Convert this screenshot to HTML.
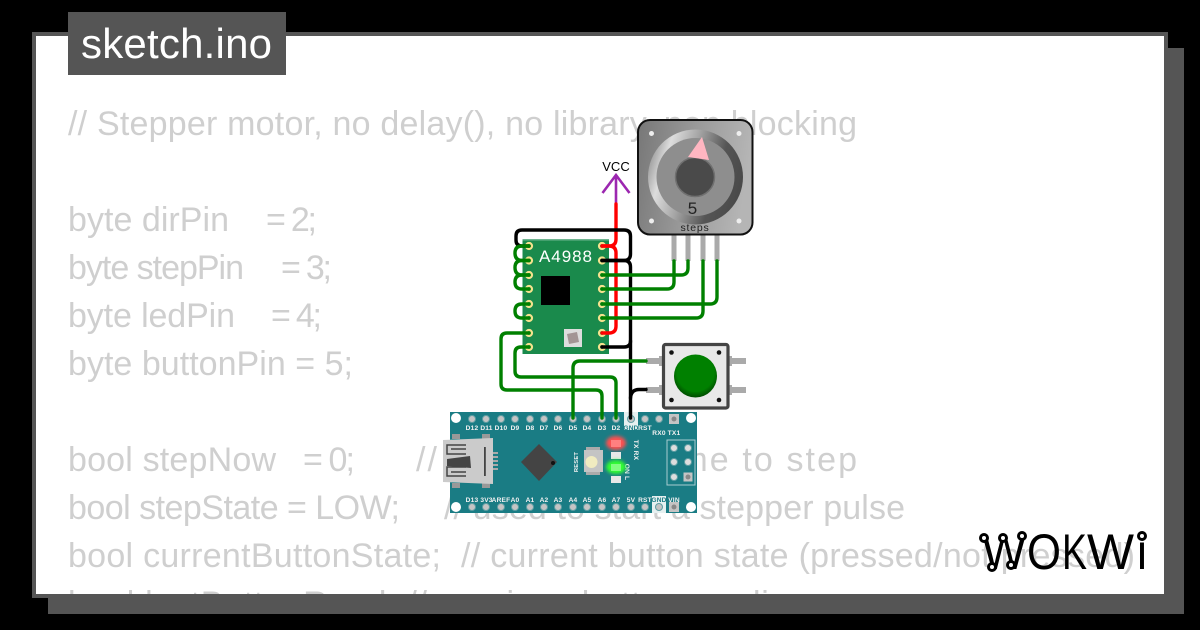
<!DOCTYPE html>
<html>
<head>
<meta charset="utf-8">
<style>
html,body{margin:0;padding:0;background:#000;width:1200px;height:630px;overflow:hidden}
svg{display:block}
text{font-family:"Liberation Sans",sans-serif}
.c{font-size:34px;fill:#cfcfcf}
.w{fill:none;stroke-width:3.400;stroke-linecap:round;stroke-linejoin:round}
.g{stroke:#008000}.k{stroke:#000}.r{stroke:#f00}
.l{font-size:6.600px;fill:#f2f2f2;text-anchor:middle;font-weight:bold;letter-spacing:.2px}
</style>
</head>
<body>
<svg width="1200" height="630" viewBox="0 0 1200 630" xmlns="http://www.w3.org/2000/svg">
<defs>
<linearGradient id="body" x1="0" y1="0" x2="1" y2="0.15"><stop offset="0" stop-color="#777"/><stop offset=".5" stop-color="#999"/><stop offset="1" stop-color="#b5b5b5"/></linearGradient>
<linearGradient id="ring" x1="0" y1="0.2" x2="1" y2="0.5"><stop offset="0" stop-color="#8a8a8a"/><stop offset=".2" stop-color="#ddd"/><stop offset=".45" stop-color="#a5a5a5"/><stop offset=".75" stop-color="#555"/><stop offset="1" stop-color="#4a4a4a"/></linearGradient>
<radialGradient id="btn" cx=".5" cy=".42" r=".6"><stop offset=".72" stop-color="#008000"/><stop offset="1" stop-color="#004400"/></radialGradient>
<clipPath id="panel"><rect x="36" y="36" width="1128" height="558"/></clipPath>
<filter id="glow" x="-100%" y="-100%" width="300%" height="300%"><feGaussianBlur stdDeviation="1.800"/></filter>
</defs>

<rect x="48" y="48" width="1136" height="566" fill="#555"/>
<rect x="34" y="34" width="1132" height="562" fill="#fff" stroke="#555" stroke-width="4"/>
<rect x="36" y="36" width="1128" height="558" fill="#fff"/>

<g clip-path="url(#panel)">
<text class="c" x="68" y="135" textLength="789">// Stepper motor, no delay(), no library, non blocking</text>
<text class="c" x="68" y="231" textLength="161">byte dirPin</text><text class="c" x="266" y="231" textLength="51">= 2;</text>
<text class="c" x="68" y="279" textLength="176">byte stepPin</text><text class="c" x="281" y="279" textLength="51">= 3;</text>
<text class="c" x="68" y="327" textLength="167">byte ledPin</text><text class="c" x="271" y="327" textLength="51">= 4;</text>
<text class="c" x="68" y="375" textLength="285">byte buttonPin = 5;</text>
<text class="c" x="68" y="471" textLength="208">bool stepNow</text><text class="c" x="303" y="471" textLength="52">= 0;</text><text class="c" x="416" y="471" textLength="441">// whether it's time to step</text>
<text class="c" x="68" y="519" textLength="332">bool stepState = LOW;</text><text class="c" x="444" y="519" textLength="461">// used to start a stepper pulse</text>
<text class="c" x="68" y="567" textLength="373">bool currentButtonState;</text><text class="c" x="461" y="567" textLength="674">// current button state (pressed/not pressed)</text>
<text class="c" x="68" y="615" textLength="740">bool lastButtonRead;  // previous button reading</text>
</g>

<rect x="68" y="12" width="218" height="63" fill="#555"/>
<text x="81" y="58" font-size="42" fill="#fff" textLength="191">sketch.ino</text>

<!-- Motor -->
<g fill="#aaa"><rect x="671.500" y="234" width="5" height="27"/><rect x="685.500" y="234" width="5" height="27"/><rect x="700.500" y="234" width="5" height="27"/><rect x="714.500" y="234" width="5" height="27"/></g>
<rect x="638" y="120" width="114.500" height="114.500" rx="12" fill="url(#body)" stroke="#111" stroke-width="2"/>
<g fill="#eee"><circle cx="651.500" cy="133.500" r="2.500"/><circle cx="739" cy="133.500" r="2.500"/><circle cx="651.500" cy="221" r="2.500"/><circle cx="739" cy="221" r="2.500"/></g>
<circle cx="695.500" cy="177" r="47.500" fill="url(#ring)"/>
<circle cx="695.500" cy="177" r="39" fill="#8e8e8e"/>
<circle cx="695" cy="177" r="19.500" fill="#4a4a4a" stroke="#707070" stroke-width="1.500"/>
<polygon points="702,137 688,157 709,160" fill="#ffb6c1"/>
<text x="692.500" y="214" font-size="17" fill="#222" text-anchor="middle">5</text>
<text x="695" y="231" font-size="10.500" fill="#222" text-anchor="middle" letter-spacing=".8">steps</text>

<!-- VCC -->
<text x="616" y="171" font-size="13" fill="#000" text-anchor="middle">VCC</text>
<path d="M602.500 193 L616 175 L629.500 193 M616 175 V204" fill="none" stroke="#9c27b0" stroke-width="2.600"/>

<!-- A4988 -->
<rect x="522.500" y="239" width="86.500" height="115" fill="#1a8a4c"/>
<rect x="522.500" y="239" width="86.500" height="1.500" fill="#6fb590"/>
<text x="539" y="262" font-size="17" fill="#fff" textLength="53">A4988</text>
<rect x="541" y="276" width="29" height="29" fill="#000"/>
<rect x="564" y="329" width="18" height="18" fill="#ddd"/>
<polygon points="567,334 577,332 579,342 569,344" fill="#a39595"/>
<g fill="none" stroke="#f4e28e" stroke-width="2.200">
<circle cx="529" cy="246" r="3"/><circle cx="529" cy="260.500" r="3"/><circle cx="529" cy="275" r="3"/><circle cx="529" cy="289" r="3"/><circle cx="529" cy="304" r="3"/><circle cx="529" cy="318" r="3"/><circle cx="529" cy="333" r="3"/><circle cx="529" cy="347" r="3"/>
<circle cx="602" cy="246" r="3"/><circle cx="602" cy="260.500" r="3"/><circle cx="602" cy="275" r="3"/><circle cx="602" cy="289" r="3"/><circle cx="602" cy="304" r="3"/><circle cx="602" cy="318" r="3"/><circle cx="602" cy="333" r="3"/><circle cx="602" cy="347" r="3"/>
</g>

<!-- Button -->
<g fill="#aaa">
<rect x="646" y="358" width="14" height="6"/><rect x="646" y="387" width="14" height="6"/>
<rect x="659" y="356" width="4" height="10"/><rect x="659" y="385" width="4" height="10"/>
<rect x="728" y="356" width="4" height="10"/><rect x="728" y="385" width="4" height="10"/>
<rect x="731" y="358" width="15" height="6"/><rect x="731" y="387" width="15" height="6"/>
</g>
<rect x="663.500" y="344.500" width="64.500" height="63.500" rx="2" fill="#e8e8e8" stroke="#444" stroke-width="3.200"/>
<g fill="#111"><circle cx="671.500" cy="352.500" r="2.300"/><circle cx="719" cy="352.500" r="2.300"/><circle cx="671.500" cy="400" r="2.300"/><circle cx="719" cy="400" r="2.300"/></g>
<circle cx="695.500" cy="376" r="21.500" fill="url(#btn)"/>
<circle cx="695.500" cy="375" r="17" fill="#008000"/>

<!-- Nano board -->
<rect x="450" y="412" width="247" height="101" fill="#1a7c84"/>
<rect x="624" y="412" width="14" height="18" fill="#e6f0f0"/>
<rect x="652" y="496" width="14" height="17" fill="#e6f0f0"/>
<g fill="#fff"><circle cx="456" cy="418" r="5"/><circle cx="691" cy="418" r="5"/><circle cx="456" cy="507" r="5"/><circle cx="691" cy="507" r="5"/></g>
<g fill="#c4c4c4" stroke="#5f9ea3" stroke-width="1">
<circle cx="472" cy="419" r="3.500"/><circle cx="486" cy="419" r="3.500"/><circle cx="501" cy="419" r="3.500"/><circle cx="515" cy="419" r="3.500"/><circle cx="530" cy="419" r="3.500"/><circle cx="544" cy="419" r="3.500"/><circle cx="558" cy="419" r="3.500"/><circle cx="573" cy="419" r="3.500"/><circle cx="587" cy="419" r="3.500"/><circle cx="602" cy="419" r="3.500"/><circle cx="616" cy="419" r="3.500"/><circle cx="631" cy="419" r="3.500"/><circle cx="645" cy="419" r="3.500"/><circle cx="659" cy="419" r="3.500"/>
<circle cx="472" cy="507" r="3.500"/><circle cx="486" cy="507" r="3.500"/><circle cx="501" cy="507" r="3.500"/><circle cx="515" cy="507" r="3.500"/><circle cx="530" cy="507" r="3.500"/><circle cx="544" cy="507" r="3.500"/><circle cx="558" cy="507" r="3.500"/><circle cx="573" cy="507" r="3.500"/><circle cx="587" cy="507" r="3.500"/><circle cx="602" cy="507" r="3.500"/><circle cx="616" cy="507" r="3.500"/><circle cx="631" cy="507" r="3.500"/><circle cx="645" cy="507" r="3.500"/><circle cx="659" cy="507" r="3.500"/>
</g>
<rect x="669" y="414" width="10" height="10" fill="#c4c4c4"/><circle cx="674" cy="419" r="2.500" fill="#888"/>
<rect x="669" y="502" width="10" height="10" fill="#c4c4c4"/><circle cx="674" cy="507" r="2.500" fill="#888"/>
<g>
<text class="l" x="472" y="430">D12</text><text class="l" x="486.500" y="430">D11</text><text class="l" x="501" y="430">D10</text><text class="l" x="515" y="430">D9</text><text class="l" x="530" y="430">D8</text><text class="l" x="544" y="430">D7</text><text class="l" x="558" y="430">D6</text><text class="l" x="573" y="430">D5</text><text class="l" x="587" y="430">D4</text><text class="l" x="602" y="430">D3</text><text class="l" x="616" y="430">D2</text><text class="l" x="631" y="430" style="fill:#1a7c84">GND</text><text class="l" x="645" y="430">RST</text>
<text class="l" x="659" y="435">RX0</text><text class="l" x="674" y="435">TX1</text>
<text class="l" x="472" y="502">D13</text><text class="l" x="486.500" y="502">3V3</text><text class="l" x="501" y="502">AREF</text><text class="l" x="515" y="502">A0</text><text class="l" x="530" y="502">A1</text><text class="l" x="544" y="502">A2</text><text class="l" x="558" y="502">A3</text><text class="l" x="573" y="502">A4</text><text class="l" x="587" y="502">A5</text><text class="l" x="602" y="502">A6</text><text class="l" x="616" y="502">A7</text><text class="l" x="631" y="502">5V</text><text class="l" x="645" y="502">RST</text><text class="l" x="659" y="502" style="fill:#1a7c84">GND</text><text class="l" x="674" y="502">VIN</text>
<text class="l" transform="translate(634,450) rotate(90)">TX RX</text>
<text class="l" transform="translate(625,472) rotate(90)">ON L</text>
<text class="l" transform="translate(578,462) rotate(-90)" style="font-size:5.800px">RESET</text>
</g>

<!-- USB -->
<g fill="#999"><rect x="452" y="434" width="8" height="5"/><rect x="482" y="434" width="8" height="5"/><rect x="452" y="483" width="8" height="5"/><rect x="482" y="483" width="8" height="5"/></g>
<rect x="492" y="452" width="6" height="2" fill="#aaa"/><rect x="492" y="456" width="6" height="2" fill="#aaa"/><rect x="492" y="460" width="6" height="2" fill="#aaa"/><rect x="492" y="464" width="6" height="2" fill="#aaa"/><rect x="492" y="468" width="6" height="2" fill="#aaa"/>
<polygon points="443,440 493,438 493,484 443,482" fill="#cbcbcb"/>
<path d="M466 445 H447 V454 H466 M451 449 H466 M466 476 H447 V467 H466 M451 472 H466" fill="none" stroke="#444" stroke-width="1.500"/>
<polygon points="447,459 470,456 471,468 447,466" fill="#444"/>
<rect x="484" y="447" width="1.800" height="29" fill="#444"/>

<!-- Chip -->
<polygon points="539,444 557,462 539,481 521,462" fill="#444"/>
<circle cx="553" cy="463" r="2" fill="#111"/>

<!-- Reset -->
<rect x="586" y="447" width="14" height="28" fill="#aaa"/>
<rect x="584" y="450" width="19" height="22" fill="#c4c4c4"/>
<circle cx="591.500" cy="462" r="6" fill="#f0ebc0"/>

<!-- LEDs -->
<ellipse cx="616" cy="443" rx="10" ry="7" fill="#ff5050" filter="url(#glow)"/>
<rect x="611" y="440" width="10" height="7" fill="#ff8080"/>
<rect x="611" y="452" width="10" height="7" fill="#e8e8e8"/>
<ellipse cx="616" cy="467" rx="10" ry="7" fill="#30ff30" filter="url(#glow)"/>
<rect x="611" y="464" width="10" height="7" fill="#80ff80"/>
<rect x="611" y="476" width="10" height="7" fill="#e8e8e8"/>

<!-- ICSP -->
<rect x="667" y="440" width="28" height="45" fill="none" stroke="#a8cdd0" stroke-width="1"/>
<g fill="#ddd" stroke="#5f9ea3" stroke-width="1"><circle cx="674" cy="448" r="3.500"/><circle cx="688" cy="448" r="3.500"/><circle cx="674" cy="462" r="3.500"/><circle cx="688" cy="462" r="3.500"/><circle cx="674" cy="477" r="3.500"/></g>
<rect x="683.500" y="472.500" width="9" height="9" fill="#c4c4c4"/><circle cx="688" cy="477" r="2.500" fill="#888"/>

<!-- Wires -->
<path class="w r" d="M616 204 V239 Q616 246 609 246 H602"/>
<path class="w r" d="M602 246 H609 Q616 246 616 253 V326 Q616 333 609 333 H602"/>

<path class="w k" d="M602 260.500 H624 Q630.500 260.500 630.500 254 V236 Q630.500 230 624 230 H522 Q516 230 516 236 V240 Q516 246 522 246 H529"/>
<path class="w k" d="M602 260.500 H624 Q630.500 260.500 630.500 267 V341 Q630.500 347 624 347 H602"/>
<path class="w k" d="M630.500 341 V418"/>
<path class="w k" d="M646 389.500 H639 Q631 389.500 630.500 398"/>

<path class="w g" d="M529 246 H522 Q515 246 515 253 Q515 260.500 522 260.500 H529"/>
<path class="w g" d="M529 260.500 H522 Q515 260.500 515 267.500 Q515 275 522 275 H529"/>
<path class="w g" d="M529 275 H522 Q515 275 515 282 Q515 289 522 289 H529"/>
<path class="w g" d="M529 304 H522 Q515 304 515 311 Q515 318 522 318 H529"/>
<path class="w g" d="M602 275 H681 Q688 275 688 268 V261"/>
<path class="w g" d="M602 289 H667 Q674 289 674 282 V261"/>
<path class="w g" d="M602 304 H710 Q717 304 717 297 V261"/>
<path class="w g" d="M602 318 H696 Q703 318 703 311 V261"/>
<path class="w g" d="M529 333 H507 Q501 333 501 339 V384 Q501 390 507 390 H596 Q602 390 602 396 V418"/>
<path class="w g" d="M529 347 H521 Q515 347 515 353 V371 Q515 377 521 377 H610 Q616 377 616 383 V418"/>
<path class="w g" d="M646 361 H580 Q573 361 573 368 V418"/>

<!-- Wokwi logo -->
<text x="982" y="569" font-size="50" fill="#000" textLength="44" lengthAdjust="spacingAndGlyphs">W</text>
<text x="1027" y="569" font-size="50" fill="#000" textLength="34" lengthAdjust="spacingAndGlyphs">O</text>
<text x="1062" y="569" font-size="50" fill="#000" textLength="25" lengthAdjust="spacingAndGlyphs">K</text>
<text x="1087" y="569" font-size="50" fill="#000" textLength="47" lengthAdjust="spacingAndGlyphs">W</text>
<text x="1137" y="569" font-size="50" fill="#000" textLength="10" lengthAdjust="spacingAndGlyphs">i</text>
<g fill="#fff" stroke="#000" stroke-width="3">
<circle cx="984" cy="538" r="3.500"/><circle cx="1003" cy="538" r="3.500"/><circle cx="1022" cy="536" r="3.500"/><circle cx="992" cy="567" r="3.500"/><circle cx="1011" cy="565" r="3.500"/><circle cx="1142" cy="536" r="3.500"/>
</g>
</svg>
</body>
</html>
